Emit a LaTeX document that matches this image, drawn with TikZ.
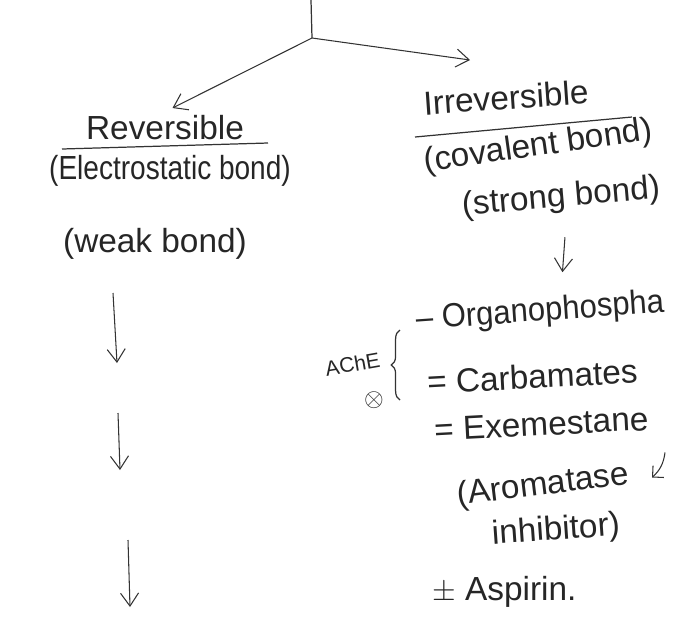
\documentclass[tikz,border=0pt]{standalone}
\usepackage{fontspec}
\setmainfont{Liberation Sans}
\usepackage{tikz}
\usetikzlibrary{arrows.meta, positioning, calc, decorations.pathreplacing}

\begin{document}
\begin{tikzpicture}[
    hand/.style = {inner sep=0.5pt, text=black!85, font=\fontsize{19}{22}\selectfont},
    small/.style = {inner sep=0.5pt, text=black!85, font=\fontsize{12}{14}\selectfont},
    flow/.style = {draw=black!80, line width=0.6pt, -{Straight Barb[length=2.6mm, width=3.6mm]}},
    uline/.style = {draw=black!80, line width=0.7pt}
]
\useasboundingbox (0,0) rectangle (13.56,-12.6);

% Split at the top
\coordinate (top) at (6.22, 0);
\coordinate (fork) at (6.24, -0.76);
\draw [uline] (top) -- (fork);

% Reversible branch
\node (rev) [hand] at (3.3, -2.56) {Reversible};
\node (elec) [hand, xscale=0.84] at (3.4, -3.42) {(Electrostatic bond)};
\node (weak) [hand] at (3.1, -4.88) {(weak bond)};
\draw [uline] (1.24, -2.98) -- (5.36, -2.86);

% Irreversible branch
\node (irr) [hand, rotate=4] at (10.12, -1.95) {Irreversible};
\node (cov) [hand, rotate=8] at (10.76, -2.94) {(covalent bond)};
\node (strong) [hand, rotate=5] at (11.22, -3.96) {(strong bond)};
\draw [uline] (8.3, -2.74) -- (12.64, -2.34);

\draw [flow] (fork) -- (3.45, -2.16);
\draw [flow] (fork) -- (9.4, -1.2);

% Arrows under the reversible side
\coordinate (a1) at (2.26, -5.86);
\coordinate (a2) at (2.36, -8.26);
\coordinate (a3) at (2.56, -10.8);
\draw [flow] (a1) -- (2.34, -7.26);
\draw [flow] (a2) -- (2.40, -9.40);
\draw [flow] (a3) -- (2.60, -12.14);

% Examples of irreversible drugs
\draw [flow] ($(strong.south)+(0.05,-0.45)$) -- ($(strong.south)+(0.0,-1.15)$);
\node (ache) [small, rotate=10] at (7.05, -7.28) {AChE};
\node (inh) [small, font=\Large] at (7.48, -8.0) {$\otimes$};
\draw [uline, decorate, decoration={brace, amplitude=5pt}] (8.0, -8.0) -- (8.0, -6.6);

\node (org) [hand, anchor=west, rotate=4, xscale=0.93] at (8.3, -6.42) {-- Organophospha};
\node (carb) [hand, anchor=west, rotate=3] at (8.52, -7.64) {= Carbamates};
\node (exem) [hand, anchor=west, rotate=3] at (8.66, -8.6) {= Exemestane};
\node (arom) [hand, rotate=7] at (10.86, -9.72) {(Aromatase};
\node (inhib) [hand, rotate=4] at (11.12, -10.62) {inhibitor)};
\node (asp) [hand, anchor=west] at (8.62, -11.84) {$\pm$ Aspirin.};
\draw [draw=black!80, line width=0.6pt, -{Straight Barb[length=1.6mm]}] (13.3, -9.05) to[bend left=20] (13.04, -9.55);

\end{tikzpicture}
\end{document}
